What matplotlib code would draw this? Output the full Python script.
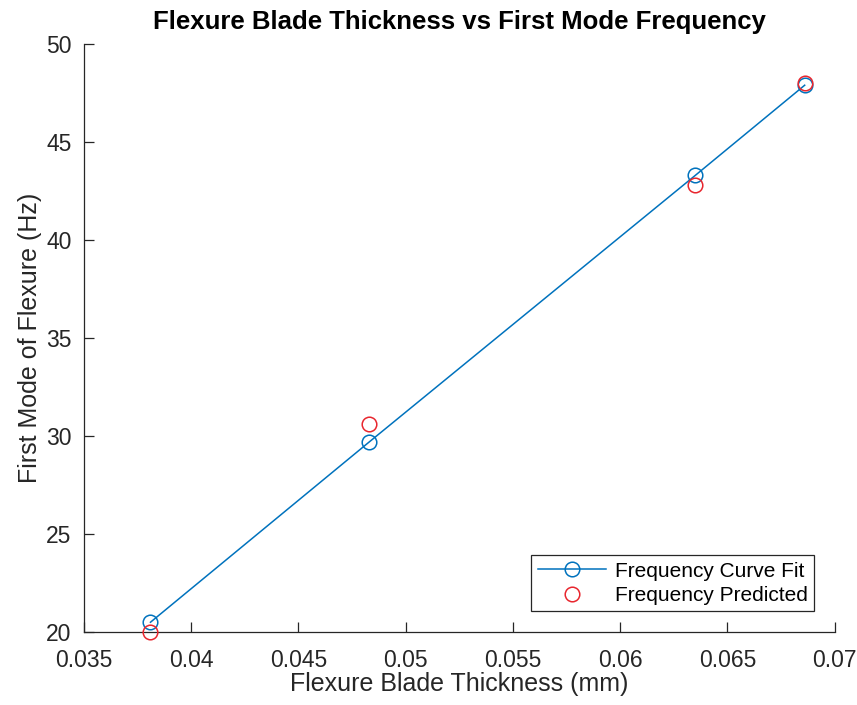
import numpy as np
import matplotlib
matplotlib.use("Agg")
import matplotlib.pyplot as plt

plt.rcParams['font.family'] = ['Liberation Sans', 'DejaVu Sans']

# blade thickness (mm) and first mode frequency (Hz)
thickness = [0.0381, 0.0483, 0.0635, 0.0686]
freq_fit = [20.5, 29.7, 43.3, 47.9]
freq_predicted = [20.0, 30.6, 42.8, 48.0]

x_ticks = [0.035, 0.04, 0.045, 0.05, 0.055, 0.06, 0.065, 0.07]
x_ticklabels = ['0.035', '0.04', '0.045', '0.05', '0.055', '0.06', '0.065', '0.07']
y_ticks = [20, 25, 30, 35, 40, 45, 50]

blue = '#0072BD'
red = '#E8262E'
axis_gray = '#262626'

fig = plt.figure(figsize=(8.57, 7.05), dpi=100)
ax = fig.add_axes([0.098, 0.1035, 0.876, 0.834])

ax.plot(thickness, freq_fit, '-o', color=blue, lw=1.1, ms=10.5, mfc='none',
        mew=1.1, label='Frequency Curve Fit', clip_on=False, zorder=3)
ax.plot(thickness, freq_predicted, 'o', color=red, ms=10.5, mfc='none',
        mew=1.1, label='Frequency Predicted', clip_on=False, zorder=4)

ax.set_xlim(0.035, 0.07)
ax.set_ylim(20, 50)
ax.set_xticks(x_ticks)
ax.set_xticklabels(x_ticklabels)
ax.set_yticks(y_ticks)

for side in ['top', 'right']:
    ax.spines[side].set_visible(False)
for side in ['left', 'bottom']:
    ax.spines[side].set_color(axis_gray)
    ax.spines[side].set_linewidth(0.9)

ax.tick_params(direction='in', length=7, width=0.9, colors=axis_gray,
               labelsize=16.5)
ax.tick_params(axis='x', pad=12)
ax.tick_params(axis='y', pad=9)

ax.set_xlabel('Flexure Blade Thickness (mm)', fontsize=18, color=axis_gray, labelpad=0)
ax.set_ylabel('First Mode of Flexure (Hz)', fontsize=18, color=axis_gray, labelpad=3)
ax.set_title('Flexure Blade Thickness vs First Mode Frequency', fontsize=18.5,
             fontweight='bold', color='black', pad=11)

leg = ax.legend(loc='lower right', fontsize=15, frameon=True, fancybox=False,
                edgecolor=axis_gray, framealpha=1, borderaxespad=1.0,
                handlelength=3.3, handletextpad=0.4, labelspacing=0.25,
                borderpad=0.3)
leg.get_frame().set_linewidth(0.9)

fig.savefig('out.png', dpi=100)
